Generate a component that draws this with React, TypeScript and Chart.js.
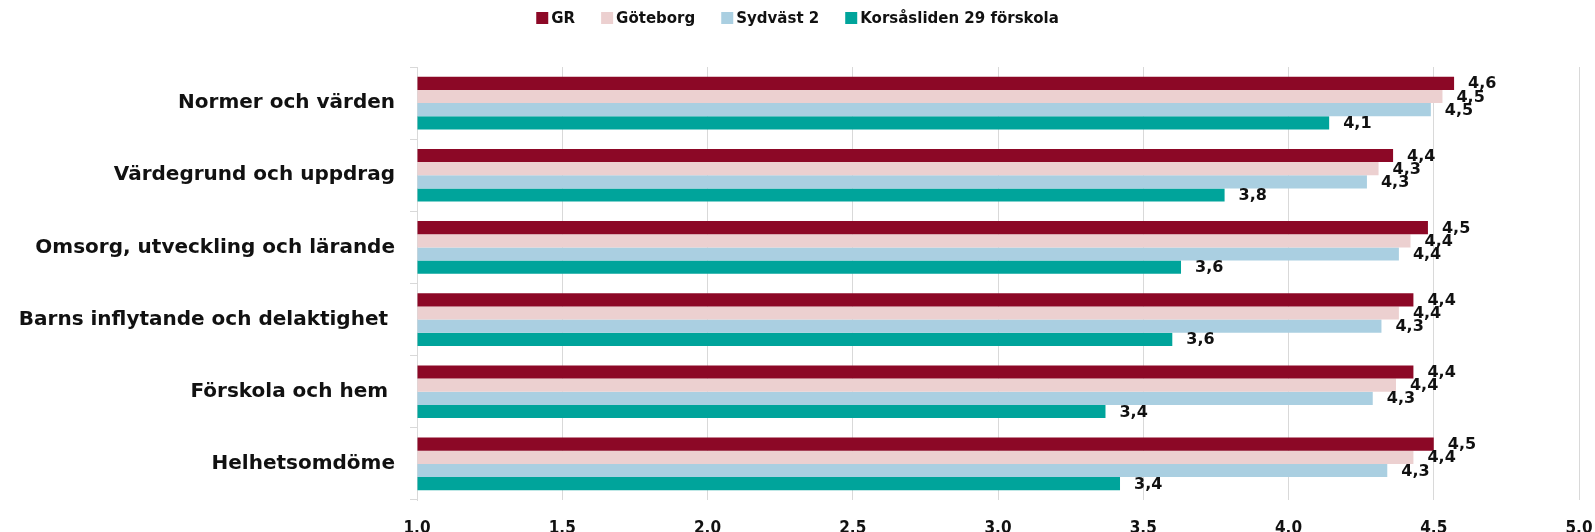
import React, { useEffect, useRef } from 'react';
import { Chart, registerables } from 'chart.js';

Chart.register(...registerables);

const categories = [
  'Normer och värden',
  'Värdegrund och uppdrag',
  'Omsorg, utveckling och lärande',
  'Barns inflytande och delaktighet ',
  'Förskola och hem ',
  'Helhetsomdöme',
];

const seriesNames = ['GR', 'Göteborg', 'Sydväst 2', 'Korsåsliden 29 förskola'];

const grValues = [4.57, 4.36, 4.48, 4.43, 4.43, 4.5];
const goteborgValues = [4.53, 4.31, 4.42, 4.38, 4.37, 4.43];
const sydvastValues = [4.49, 4.27, 4.38, 4.32, 4.29, 4.34];
const korsaslidenValues = [4.14, 3.78, 3.63, 3.6, 3.37, 3.42];

const seriesColors = ['#8C0826', '#ECD0D0', '#AACFE1', '#00A49B'];

const xMin = 1;
const xMax = 5;
const xStep = 0.5;

const W = 1595;
const H = 532;

const valueFont = "bold 16px 'DejaVu Sans', sans-serif";
const legendFont = "bold 15px 'DejaVu Sans', sans-serif";

const fmt = (v: number) => v.toFixed(1).replace('.', ',');

const legendPlugin = {
  id: 'customLegend',
  afterDraw(chart: any) {
    const ctx = chart.ctx;
    ctx.save();
    ctx.font = legendFont;
    ctx.textBaseline = 'middle';
    ctx.textAlign = 'left';
    const box = 12;
    const gapBoxText = 3;
    const gapItems = 26;
    const widths = seriesNames.map((n) => ctx.measureText(n).width);
    const total =
      widths.reduce((a: number, b: number) => a + b, 0) +
      seriesNames.length * (box + gapBoxText) +
      (seriesNames.length - 1) * gapItems;
    let x = (chart.width - total) / 2;
    const y = 18;
    seriesNames.forEach((n, i) => {
      ctx.fillStyle = seriesColors[i];
      ctx.fillRect(x, y - box / 2, box, box);
      x += box + gapBoxText;
      ctx.fillStyle = '#111';
      ctx.fillText(n, x, y + 1);
      x += widths[i] + gapItems;
    });
    ctx.restore();
  },
};

const valueLabelPlugin = {
  id: 'valueLabels',
  afterDatasetsDraw(chart: any) {
    const ctx = chart.ctx;
    ctx.save();
    ctx.font = valueFont;
    ctx.fillStyle = '#111';
    ctx.textAlign = 'left';
    ctx.textBaseline = 'middle';
    chart.data.datasets.forEach((ds: any, di: number) => {
      const meta = chart.getDatasetMeta(di);
      meta.data.forEach((bar: any, i: number) => {
        ctx.fillText(fmt(ds.data[i]), bar.x + 14, bar.y + 1);
      });
    });
    ctx.restore();
  },
};

export default function App() {
  const ref = useRef<HTMLCanvasElement | null>(null);

  useEffect(() => {
    if (!ref.current) return;
    const seriesValues = [grValues, goteborgValues, sydvastValues, korsaslidenValues];
    const chart = new Chart(ref.current, {
      type: 'bar',
      data: {
        labels: categories,
        datasets: seriesNames.map((name, i) => ({
          label: name,
          data: seriesValues[i],
          backgroundColor: seriesColors[i],
          borderWidth: 0,
          categoryPercentage: 0.73,
          barPercentage: 1,
          base: xMin,
        })),
      },
      options: {
        indexAxis: 'y',
        responsive: false,
        devicePixelRatio: 1,
        animation: false,
        layout: { padding: { top: 67, right: 16, bottom: 0, left: 0 } },
        plugins: {
          legend: { display: false },
          tooltip: { enabled: false },
        },
        scales: {
          x: {
            position: 'bottom',
            min: xMin,
            max: xMax,
            ticks: {
              stepSize: xStep,
              callback: (v: any) => fmt(Number(v)),
              font: { family: "'Liberation Sans Narrow', 'DejaVu Sans Condensed', sans-serif", size: 17, weight: 'bold' },
              color: '#111',
              padding: 18,
              maxRotation: 0,
            },
            grid: { color: '#D9D9D9', lineWidth: 1, drawTicks: false },
            border: { display: false },
            afterFit: (s: any) => {
              s.height = 32;
              s.paddingLeft = 0;
              s.paddingRight = 0;
            },
          },
          y: {
            type: 'category',
            ticks: {
              font: { family: "'DejaVu Sans', sans-serif", size: 20, weight: 'bold' },
              color: '#111',
              padding: 15,
              autoSkip: false,
            },
            grid: {
              offset: true,
              drawOnChartArea: false,
              drawTicks: true,
              tickLength: 7,
              color: '#D9D9D9',
            },
            border: { display: true, color: '#D9D9D9' },
            afterFit: (s: any) => {
              s.width = 417;
              s.paddingTop = 0;
              s.paddingBottom = 0;
            },
          },
        },
      } as any,
      plugins: [legendPlugin, valueLabelPlugin],
    });
    return () => chart.destroy();
  }, []);

  return (
    <div style={{ position: 'absolute', left: 0, top: 0, width: W, height: H, background: '#fff' }}>
      <canvas ref={ref} width={W} height={H} style={{ display: 'block', width: W, height: H }} />
    </div>
  );
}
